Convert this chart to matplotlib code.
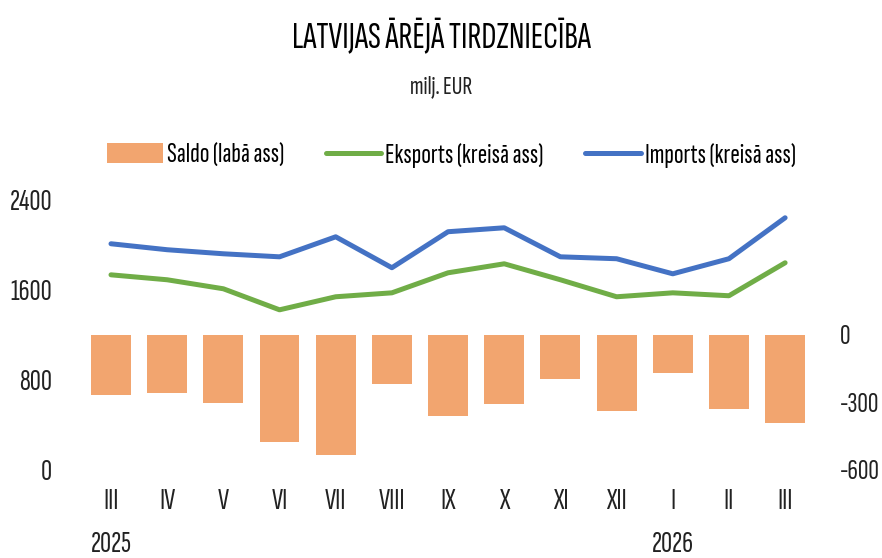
import matplotlib.pyplot as plt
from matplotlib import font_manager
import numpy as np

# narrow font, with fallback
names = {f.name for f in font_manager.fontManager.ttflist}
fams = [n for n in ['Sofia Sans Extra Condensed', 'Fira Sans Extra Condensed', 'Roboto Condensed'] if n in names]
plt.rcParams['font.family'] = fams + ['DejaVu Sans']
plt.rcParams['axes.unicode_minus'] = False

months = ['III', 'IV', 'V', 'VI', 'VII', 'VIII', 'IX', 'X', 'XI', 'XII', 'I', 'II', 'III']
years = {0: '2025', 10: '2026'}

saldo = [-269, -260, -304, -475, -533, -219, -363, -309, -197, -340, -170, -331, -394]
eksports = [1733, 1689, 1609, 1422, 1538, 1573, 1751, 1831, 1689, 1538, 1573, 1547, 1840]
imports = [2009, 1956, 1920, 1893, 2071, 1796, 2116, 2151, 1893, 1876, 1742, 1876, 2240]

c_bar = '#F2A56F'
c_green = '#70AD47'
c_blue = '#4472C4'
c_text = '#222222'

fig = plt.figure(figsize=(8.82, 5.58), dpi=100)
ax = fig.add_axes([0.094, 0.158, 0.828, 0.484])
ax2 = ax.twinx()

x = np.arange(len(months))
bars = ax2.bar(x, saldo, width=0.71, color=c_bar, label='Saldo (labā ass)', zorder=1)
l1, = ax.plot(x, eksports, color=c_green, lw=3.6, label='Eksports (kreisā ass)', solid_capstyle='round')
l2, = ax.plot(x, imports, color=c_blue, lw=3.6, label='Imports (kreisā ass)', solid_capstyle='round')

ax.set_xlim(-0.5, len(months) - 0.5)
ax.set_ylim(0, 2400)
ax.set_yticks([0, 800, 1600, 2400])
ax2.set_ylim(-600, 600)
ax2.set_yticks([-600, -300, 0])

for a in (ax, ax2):
    for s in a.spines.values():
        s.set_visible(False)
    a.tick_params(length=0, labelsize=22, colors=c_text)

ax.set_xticks(x)
ax.set_xticklabels(months)
ax.tick_params(axis='x', pad=13)
ax.tick_params(axis='y', pad=22)
ax2.tick_params(axis='y', pad=19, labelsize=21)

for i, yr in years.items():
    ax.annotate(yr, xy=(i, 0), xycoords=('data', 'axes fraction'), xytext=(0, -54),
                textcoords='offset points', ha='center', va='center', fontsize=22, color=c_text)

fig.text(0.5, 0.934, 'LATVIJAS ĀRĒJĀ TIRDZNIECĪBA', ha='center', va='center',
         fontsize=27, fontweight='medium', color='black')
fig.text(0.5, 0.844, 'milj. EUR', ha='center', va='center', fontsize=19, color=c_text)

fig.legend([bars, l1, l2], [bars.get_label(), l1.get_label(), l2.get_label()],
           loc='center', bbox_to_anchor=(0.512, 0.722), ncol=3, frameon=False,
           fontsize=20.5, handlelength=1.95, columnspacing=1.45, handletextpad=0.15)

fig.savefig('out.png', dpi=100)
